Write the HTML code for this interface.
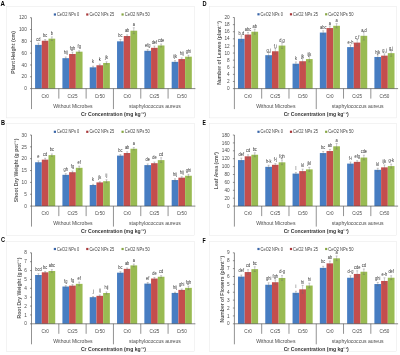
<!DOCTYPE html>
<html><head><meta charset="utf-8"><title>Figure</title>
<style>html,body{margin:0;padding:0;background:#fff;}body{width:400px;height:355px;overflow:hidden;font-family:"Liberation Sans",sans-serif}</style>
</head><body>
<svg width="400" height="355" viewBox="0 0 400 355" style="display:block;filter:blur(0.25px);font-family:'Liberation Sans',sans-serif">
<rect width="400" height="355" fill="#fff"/>
<rect x="6.5" y="6.3" width="188.20" height="111.60" fill="#fff" stroke="#e2e2e2" stroke-width="0.4"/>
<text x="0.6" y="6.1" font-size="7" textLength="4.4" lengthAdjust="spacingAndGlyphs" font-weight="bold" fill="#000">A</text>
<rect x="35.09" y="44.88" width="6.71" height="43.72" fill="#477dc2"/>
<path d="M38.45 43.11V46.65M37.45 43.11h2M37.45 46.65h2" stroke="#6a6a6a" stroke-width="0.35" fill="none"/>
<text transform="translate(38.45,40.85) scale(0.88,1)" font-size="4.5" text-anchor="middle" fill="#2a2a2a">cd</text>
<rect x="41.80" y="40.74" width="6.71" height="47.86" fill="#c44e4d"/>
<path d="M45.16 39.56V41.92M44.16 39.56h2M44.16 41.92h2" stroke="#6a6a6a" stroke-width="0.35" fill="none"/>
<text transform="translate(45.16,36.89) scale(0.88,1)" font-size="4.5" text-anchor="middle" fill="#2a2a2a">bc</text>
<rect x="48.51" y="38.67" width="6.71" height="49.93" fill="#99bb52"/>
<path d="M51.87 36.90V40.45M50.87 36.90h2M50.87 40.45h2" stroke="#6a6a6a" stroke-width="0.35" fill="none"/>
<text transform="translate(51.87,34.64) scale(0.88,1)" font-size="4.5" text-anchor="middle" fill="#2a2a2a">b</text>
<rect x="62.41" y="58.17" width="6.71" height="30.43" fill="#477dc2"/>
<path d="M65.76 56.99V59.35M64.76 56.99h2M64.76 59.35h2" stroke="#6a6a6a" stroke-width="0.35" fill="none"/>
<text transform="translate(65.76,54.32) scale(0.88,1)" font-size="4.5" text-anchor="middle" fill="#2a2a2a">hij</text>
<rect x="69.12" y="53.98" width="6.71" height="34.62" fill="#c44e4d"/>
<path d="M72.47 52.20V55.75M71.47 52.20h2M71.47 55.75h2" stroke="#6a6a6a" stroke-width="0.35" fill="none"/>
<text transform="translate(72.47,49.95) scale(0.88,1)" font-size="4.5" text-anchor="middle" fill="#2a2a2a">fgh</text>
<rect x="75.83" y="51.67" width="6.71" height="36.93" fill="#99bb52"/>
<path d="M79.19 50.79V52.56M78.19 50.79h2M78.19 52.56h2" stroke="#6a6a6a" stroke-width="0.35" fill="none"/>
<text transform="translate(79.19,47.91) scale(0.88,1)" font-size="4.5" text-anchor="middle" fill="#2a2a2a">fg</text>
<rect x="89.72" y="67.33" width="6.71" height="21.27" fill="#477dc2"/>
<path d="M93.08 66.15V68.51M92.08 66.15h2M92.08 68.51h2" stroke="#6a6a6a" stroke-width="0.35" fill="none"/>
<text transform="translate(93.08,63.48) scale(0.88,1)" font-size="4.5" text-anchor="middle" fill="#2a2a2a">k</text>
<rect x="96.44" y="65.26" width="6.71" height="23.34" fill="#c44e4d"/>
<path d="M99.79 64.08V66.44M98.79 64.08h2M98.79 66.44h2" stroke="#6a6a6a" stroke-width="0.35" fill="none"/>
<text transform="translate(99.79,61.41) scale(0.88,1)" font-size="4.5" text-anchor="middle" fill="#2a2a2a">k</text>
<rect x="103.15" y="62.96" width="6.71" height="25.64" fill="#99bb52"/>
<path d="M106.50 61.78V64.14M105.50 61.78h2M105.50 64.14h2" stroke="#6a6a6a" stroke-width="0.35" fill="none"/>
<text transform="translate(106.50,59.10) scale(0.88,1)" font-size="4.5" text-anchor="middle" fill="#2a2a2a">jk</text>
<rect x="117.04" y="41.33" width="6.71" height="47.27" fill="#477dc2"/>
<path d="M120.40 39.56V43.11M119.40 39.56h2M119.40 43.11h2" stroke="#6a6a6a" stroke-width="0.35" fill="none"/>
<text transform="translate(120.40,37.30) scale(0.88,1)" font-size="4.5" text-anchor="middle" fill="#2a2a2a">bc</text>
<rect x="123.75" y="36.02" width="6.71" height="52.58" fill="#c44e4d"/>
<path d="M127.11 34.83V37.20M126.11 34.83h2M126.11 37.20h2" stroke="#6a6a6a" stroke-width="0.35" fill="none"/>
<text transform="translate(127.11,32.16) scale(0.88,1)" font-size="4.5" text-anchor="middle" fill="#2a2a2a">ab</text>
<rect x="130.46" y="30.70" width="6.71" height="57.90" fill="#99bb52"/>
<path d="M133.82 27.74V33.65M132.82 27.74h2M132.82 33.65h2" stroke="#6a6a6a" stroke-width="0.35" fill="none"/>
<text transform="translate(133.82,26.31) scale(0.88,1)" font-size="4.5" text-anchor="middle" fill="#2a2a2a">a</text>
<rect x="144.36" y="50.79" width="6.71" height="37.81" fill="#477dc2"/>
<path d="M147.71 49.61V51.97M146.71 49.61h2M146.71 51.97h2" stroke="#6a6a6a" stroke-width="0.35" fill="none"/>
<text transform="translate(147.71,46.93) scale(0.88,1)" font-size="4.5" text-anchor="middle" fill="#2a2a2a">efg</text>
<rect x="151.07" y="47.83" width="6.71" height="40.77" fill="#c44e4d"/>
<path d="M154.42 46.06V49.61M153.42 46.06h2M153.42 49.61h2" stroke="#6a6a6a" stroke-width="0.35" fill="none"/>
<text transform="translate(154.42,43.80) scale(0.88,1)" font-size="4.5" text-anchor="middle" fill="#2a2a2a">def</text>
<rect x="157.78" y="45.47" width="6.71" height="43.13" fill="#99bb52"/>
<path d="M161.14 43.99V46.95M160.14 43.99h2M160.14 46.95h2" stroke="#6a6a6a" stroke-width="0.35" fill="none"/>
<text transform="translate(161.14,41.53) scale(0.88,1)" font-size="4.5" text-anchor="middle" fill="#2a2a2a">cde</text>
<rect x="171.67" y="61.84" width="6.71" height="26.76" fill="#477dc2"/>
<path d="M175.03 60.65V63.02M174.03 60.65h2M174.03 63.02h2" stroke="#6a6a6a" stroke-width="0.35" fill="none"/>
<text transform="translate(175.03,57.98) scale(0.88,1)" font-size="4.5" text-anchor="middle" fill="#2a2a2a">ijk</text>
<rect x="178.39" y="59.06" width="6.71" height="29.54" fill="#c44e4d"/>
<path d="M181.74 57.88V60.24M180.74 57.88h2M180.74 60.24h2" stroke="#6a6a6a" stroke-width="0.35" fill="none"/>
<text transform="translate(181.74,55.20) scale(0.88,1)" font-size="4.5" text-anchor="middle" fill="#2a2a2a">hij</text>
<rect x="185.10" y="56.70" width="6.71" height="31.90" fill="#99bb52"/>
<path d="M188.45 55.22V58.17M187.45 55.22h2M187.45 58.17h2" stroke="#6a6a6a" stroke-width="0.35" fill="none"/>
<text transform="translate(188.45,52.75) scale(0.88,1)" font-size="4.5" text-anchor="middle" fill="#2a2a2a">ghi</text>
<path d="M31.5 17.7V88.6H195.4" stroke="#4a4a4a" stroke-width="0.65" fill="none"/>
<path d="M30.0 88.60H31.5" stroke="#4a4a4a" stroke-width="0.6"/>
<text x="26.80" y="90.25" font-size="4.7" text-anchor="end" fill="#4c4c4c">0</text>
<path d="M30.0 76.78H31.5" stroke="#4a4a4a" stroke-width="0.6"/>
<text x="26.80" y="78.43" font-size="4.7" text-anchor="end" fill="#4c4c4c">20</text>
<path d="M30.0 64.97H31.5" stroke="#4a4a4a" stroke-width="0.6"/>
<text x="26.80" y="66.62" font-size="4.7" text-anchor="end" fill="#4c4c4c">40</text>
<path d="M30.0 53.15H31.5" stroke="#4a4a4a" stroke-width="0.6"/>
<text x="26.80" y="54.80" font-size="4.7" text-anchor="end" fill="#4c4c4c">60</text>
<path d="M30.0 41.33H31.5" stroke="#4a4a4a" stroke-width="0.6"/>
<text x="26.80" y="42.98" font-size="4.7" text-anchor="end" fill="#4c4c4c">80</text>
<path d="M30.0 29.52H31.5" stroke="#4a4a4a" stroke-width="0.6"/>
<text x="26.80" y="31.17" font-size="4.7" text-anchor="end" fill="#4c4c4c">100</text>
<path d="M30.0 17.70H31.5" stroke="#4a4a4a" stroke-width="0.6"/>
<text x="26.80" y="19.35" font-size="4.7" text-anchor="end" fill="#4c4c4c">120</text>
<path d="M31.50 88.6V109.1" stroke="#4a4a4a" stroke-width="0.6"/>
<path d="M58.82 88.6V98.6" stroke="#4a4a4a" stroke-width="0.6"/>
<path d="M86.13 88.6V98.6" stroke="#4a4a4a" stroke-width="0.6"/>
<path d="M113.45 88.6V109.1" stroke="#4a4a4a" stroke-width="0.6"/>
<path d="M140.77 88.6V98.6" stroke="#4a4a4a" stroke-width="0.6"/>
<path d="M168.08 88.6V98.6" stroke="#4a4a4a" stroke-width="0.6"/>
<text x="45.16" y="97.60" font-size="4.6" text-anchor="middle" fill="#4c4c4c">Cr0</text>
<text x="72.47" y="97.60" font-size="4.6" text-anchor="middle" fill="#4c4c4c">Cr25</text>
<text x="99.79" y="97.60" font-size="4.6" text-anchor="middle" fill="#4c4c4c">Cr50</text>
<text x="127.11" y="97.60" font-size="4.6" text-anchor="middle" fill="#4c4c4c">Cr0</text>
<text x="154.43" y="97.60" font-size="4.6" text-anchor="middle" fill="#4c4c4c">Cr25</text>
<text x="181.74" y="97.60" font-size="4.6" text-anchor="middle" fill="#4c4c4c">Cr50</text>
<text x="72.97" y="107.90" font-size="5.1" text-anchor="middle" fill="#4c4c4c">Without Microbes</text>
<text x="154.93" y="107.90" font-size="5.1" text-anchor="middle" fill="#4c4c4c">staphylococcus aureus</text>
<text x="113.45" y="115.90" font-size="5.1" font-weight="bold" text-anchor="middle" fill="#333">Cr Concentration (mg kg⁻¹)</text>
<text transform="translate(15.4,52.45) rotate(-90)" font-size="5.2" font-weight="bold" text-anchor="middle" fill="#585858">Plant Height (cm)</text>
<rect x="53.80" y="13.40" width="2.2" height="2.2" fill="#3a66a8"/>
<text x="57.00" y="16.00" font-size="4.6" textLength="22.3" lengthAdjust="spacingAndGlyphs" fill="#454545">CeO2 NPs 0</text>
<rect x="86.20" y="13.40" width="2.2" height="2.2" fill="#a8383a"/>
<text x="89.40" y="16.00" font-size="4.6" textLength="24.8" lengthAdjust="spacingAndGlyphs" fill="#454545">CeO2 NPs 25</text>
<rect x="121.50" y="13.40" width="2.2" height="2.2" fill="#86a642"/>
<text x="124.70" y="16.00" font-size="4.6" textLength="25.2" lengthAdjust="spacingAndGlyphs" fill="#454545">CeO2 NPs 50</text>
<rect x="6.5" y="123.2" width="188.20" height="112.30" fill="#fff" stroke="#e2e2e2" stroke-width="0.4"/>
<text x="1.0" y="124.5" font-size="7" textLength="4.0" lengthAdjust="spacingAndGlyphs" font-weight="bold" fill="#000">B</text>
<rect x="35.09" y="162.25" width="6.71" height="43.84" fill="#477dc2"/>
<path d="M38.45 160.83V163.68M37.45 160.83h2M37.45 163.68h2" stroke="#6a6a6a" stroke-width="0.35" fill="none"/>
<text transform="translate(38.45,158.33) scale(0.88,1)" font-size="4.5" text-anchor="middle" fill="#2a2a2a">e</text>
<rect x="41.80" y="159.65" width="6.71" height="46.45" fill="#c44e4d"/>
<path d="M45.16 158.23V161.07M44.16 158.23h2M44.16 161.07h2" stroke="#6a6a6a" stroke-width="0.35" fill="none"/>
<text transform="translate(45.16,155.72) scale(0.88,1)" font-size="4.5" text-anchor="middle" fill="#2a2a2a">cd</text>
<rect x="48.51" y="155.15" width="6.71" height="50.95" fill="#99bb52"/>
<path d="M51.87 153.96V156.33M50.87 153.96h2M50.87 156.33h2" stroke="#6a6a6a" stroke-width="0.35" fill="none"/>
<text transform="translate(51.87,151.29) scale(0.88,1)" font-size="4.5" text-anchor="middle" fill="#2a2a2a">bc</text>
<rect x="62.41" y="174.82" width="6.71" height="31.28" fill="#477dc2"/>
<path d="M65.76 173.63V176.00M64.76 173.63h2M64.76 176.00h2" stroke="#6a6a6a" stroke-width="0.35" fill="none"/>
<text transform="translate(65.76,170.96) scale(0.88,1)" font-size="4.5" text-anchor="middle" fill="#2a2a2a">gh</text>
<rect x="69.12" y="172.21" width="6.71" height="33.89" fill="#c44e4d"/>
<path d="M72.47 171.02V173.39M71.47 171.02h2M71.47 173.39h2" stroke="#6a6a6a" stroke-width="0.35" fill="none"/>
<text transform="translate(72.47,168.35) scale(0.88,1)" font-size="4.5" text-anchor="middle" fill="#2a2a2a">fg</text>
<rect x="75.83" y="167.82" width="6.71" height="38.28" fill="#99bb52"/>
<path d="M79.19 166.17V169.48M78.19 166.17h2M78.19 169.48h2" stroke="#6a6a6a" stroke-width="0.35" fill="none"/>
<text transform="translate(79.19,163.83) scale(0.88,1)" font-size="4.5" text-anchor="middle" fill="#2a2a2a">ef</text>
<rect x="89.72" y="185.01" width="6.71" height="21.09" fill="#477dc2"/>
<path d="M93.08 184.30V185.72M92.08 184.30h2M92.08 185.72h2" stroke="#6a6a6a" stroke-width="0.35" fill="none"/>
<text transform="translate(93.08,181.29) scale(0.88,1)" font-size="4.5" text-anchor="middle" fill="#2a2a2a">k</text>
<rect x="96.44" y="182.40" width="6.71" height="23.70" fill="#c44e4d"/>
<path d="M99.79 181.69V183.11M98.79 181.69h2M98.79 183.11h2" stroke="#6a6a6a" stroke-width="0.35" fill="none"/>
<text transform="translate(99.79,178.69) scale(0.88,1)" font-size="4.5" text-anchor="middle" fill="#2a2a2a">jk</text>
<rect x="103.15" y="181.22" width="6.71" height="24.88" fill="#99bb52"/>
<path d="M106.50 179.79V182.64M105.50 179.79h2M105.50 182.64h2" stroke="#6a6a6a" stroke-width="0.35" fill="none"/>
<text transform="translate(106.50,177.29) scale(0.88,1)" font-size="4.5" text-anchor="middle" fill="#2a2a2a">ij</text>
<rect x="117.04" y="155.62" width="6.71" height="50.48" fill="#477dc2"/>
<path d="M120.40 154.67V156.57M119.40 154.67h2M119.40 156.57h2" stroke="#6a6a6a" stroke-width="0.35" fill="none"/>
<text transform="translate(120.40,151.83) scale(0.88,1)" font-size="4.5" text-anchor="middle" fill="#2a2a2a">bc</text>
<rect x="123.75" y="153.01" width="6.71" height="53.09" fill="#c44e4d"/>
<path d="M127.11 151.83V154.20M126.11 151.83h2M126.11 154.20h2" stroke="#6a6a6a" stroke-width="0.35" fill="none"/>
<text transform="translate(127.11,149.16) scale(0.88,1)" font-size="4.5" text-anchor="middle" fill="#2a2a2a">ab</text>
<rect x="130.46" y="148.75" width="6.71" height="57.35" fill="#99bb52"/>
<path d="M133.82 147.56V149.93M132.82 147.56h2M132.82 149.93h2" stroke="#6a6a6a" stroke-width="0.35" fill="none"/>
<text transform="translate(133.82,144.89) scale(0.88,1)" font-size="4.5" text-anchor="middle" fill="#2a2a2a">a</text>
<rect x="144.36" y="165.10" width="6.71" height="41.00" fill="#477dc2"/>
<path d="M147.71 163.91V166.28M146.71 163.91h2M146.71 166.28h2" stroke="#6a6a6a" stroke-width="0.35" fill="none"/>
<text transform="translate(147.71,161.24) scale(0.88,1)" font-size="4.5" text-anchor="middle" fill="#2a2a2a">de</text>
<rect x="151.07" y="163.20" width="6.71" height="42.90" fill="#c44e4d"/>
<path d="M154.42 162.02V164.39M153.42 162.02h2M153.42 164.39h2" stroke="#6a6a6a" stroke-width="0.35" fill="none"/>
<text transform="translate(154.42,159.35) scale(0.88,1)" font-size="4.5" text-anchor="middle" fill="#2a2a2a">de</text>
<rect x="157.78" y="160.12" width="6.71" height="45.98" fill="#99bb52"/>
<path d="M161.14 157.75V162.49M160.14 157.75h2M160.14 162.49h2" stroke="#6a6a6a" stroke-width="0.35" fill="none"/>
<text transform="translate(161.14,155.91) scale(0.88,1)" font-size="4.5" text-anchor="middle" fill="#2a2a2a">cd</text>
<rect x="171.67" y="180.03" width="6.71" height="26.07" fill="#477dc2"/>
<path d="M175.03 178.84V181.22M174.03 178.84h2M174.03 181.22h2" stroke="#6a6a6a" stroke-width="0.35" fill="none"/>
<text transform="translate(175.03,176.17) scale(0.88,1)" font-size="4.5" text-anchor="middle" fill="#2a2a2a">hij</text>
<rect x="178.39" y="177.66" width="6.71" height="28.44" fill="#c44e4d"/>
<path d="M181.74 176.71V178.61M180.74 176.71h2M180.74 178.61h2" stroke="#6a6a6a" stroke-width="0.35" fill="none"/>
<text transform="translate(181.74,173.88) scale(0.88,1)" font-size="4.5" text-anchor="middle" fill="#2a2a2a">hij</text>
<rect x="185.10" y="175.76" width="6.71" height="30.34" fill="#99bb52"/>
<path d="M188.45 174.34V177.19M187.45 174.34h2M187.45 177.19h2" stroke="#6a6a6a" stroke-width="0.35" fill="none"/>
<text transform="translate(188.45,171.84) scale(0.88,1)" font-size="4.5" text-anchor="middle" fill="#2a2a2a">ghi</text>
<path d="M31.5 135V206.1H195.4" stroke="#4a4a4a" stroke-width="0.65" fill="none"/>
<path d="M30.0 206.10H31.5" stroke="#4a4a4a" stroke-width="0.6"/>
<text x="26.80" y="207.75" font-size="4.7" text-anchor="end" fill="#4c4c4c">0</text>
<path d="M30.0 194.25H31.5" stroke="#4a4a4a" stroke-width="0.6"/>
<text x="26.80" y="195.90" font-size="4.7" text-anchor="end" fill="#4c4c4c">5</text>
<path d="M30.0 182.40H31.5" stroke="#4a4a4a" stroke-width="0.6"/>
<text x="26.80" y="184.05" font-size="4.7" text-anchor="end" fill="#4c4c4c">10</text>
<path d="M30.0 170.55H31.5" stroke="#4a4a4a" stroke-width="0.6"/>
<text x="26.80" y="172.20" font-size="4.7" text-anchor="end" fill="#4c4c4c">15</text>
<path d="M30.0 158.70H31.5" stroke="#4a4a4a" stroke-width="0.6"/>
<text x="26.80" y="160.35" font-size="4.7" text-anchor="end" fill="#4c4c4c">20</text>
<path d="M30.0 146.85H31.5" stroke="#4a4a4a" stroke-width="0.6"/>
<text x="26.80" y="148.50" font-size="4.7" text-anchor="end" fill="#4c4c4c">25</text>
<path d="M30.0 135.00H31.5" stroke="#4a4a4a" stroke-width="0.6"/>
<text x="26.80" y="136.65" font-size="4.7" text-anchor="end" fill="#4c4c4c">30</text>
<path d="M31.50 206.1V226.6" stroke="#4a4a4a" stroke-width="0.6"/>
<path d="M58.82 206.1V216.1" stroke="#4a4a4a" stroke-width="0.6"/>
<path d="M86.13 206.1V216.1" stroke="#4a4a4a" stroke-width="0.6"/>
<path d="M113.45 206.1V226.6" stroke="#4a4a4a" stroke-width="0.6"/>
<path d="M140.77 206.1V216.1" stroke="#4a4a4a" stroke-width="0.6"/>
<path d="M168.08 206.1V216.1" stroke="#4a4a4a" stroke-width="0.6"/>
<text x="45.16" y="215.10" font-size="4.6" text-anchor="middle" fill="#4c4c4c">Cr0</text>
<text x="72.47" y="215.10" font-size="4.6" text-anchor="middle" fill="#4c4c4c">Cr25</text>
<text x="99.79" y="215.10" font-size="4.6" text-anchor="middle" fill="#4c4c4c">Cr50</text>
<text x="127.11" y="215.10" font-size="4.6" text-anchor="middle" fill="#4c4c4c">Cr0</text>
<text x="154.43" y="215.10" font-size="4.6" text-anchor="middle" fill="#4c4c4c">Cr25</text>
<text x="181.74" y="215.10" font-size="4.6" text-anchor="middle" fill="#4c4c4c">Cr50</text>
<text x="72.97" y="225.40" font-size="5.1" text-anchor="middle" fill="#4c4c4c">Without Microbes</text>
<text x="154.93" y="225.40" font-size="5.1" text-anchor="middle" fill="#4c4c4c">staphylococcus aureus</text>
<text x="113.45" y="233.40" font-size="5.1" font-weight="bold" text-anchor="middle" fill="#333">Cr Concentration (mg kg⁻¹)</text>
<text transform="translate(17.8,170.35) rotate(-90)" font-size="5.1" font-weight="bold" text-anchor="middle" fill="#585858">Shoot Dry Weight (g pot⁻¹)</text>
<rect x="53.80" y="130.70" width="2.2" height="2.2" fill="#3a66a8"/>
<text x="57.00" y="133.30" font-size="4.6" textLength="22.3" lengthAdjust="spacingAndGlyphs" fill="#454545">CeO2 NPs 0</text>
<rect x="86.20" y="130.70" width="2.2" height="2.2" fill="#a8383a"/>
<text x="89.40" y="133.30" font-size="4.6" textLength="24.8" lengthAdjust="spacingAndGlyphs" fill="#454545">CeO2 NPs 25</text>
<rect x="121.50" y="130.70" width="2.2" height="2.2" fill="#86a642"/>
<text x="124.70" y="133.30" font-size="4.6" textLength="25.2" lengthAdjust="spacingAndGlyphs" fill="#454545">CeO2 NPs 50</text>
<rect x="6.5" y="241.2" width="188.20" height="110.40" fill="#fff" stroke="#e2e2e2" stroke-width="0.4"/>
<text x="1.0" y="242.3" font-size="7" textLength="4.0" lengthAdjust="spacingAndGlyphs" font-weight="bold" fill="#000">C</text>
<rect x="35.09" y="274.99" width="6.71" height="48.81" fill="#477dc2"/>
<path d="M38.45 273.66V276.32M37.45 273.66h2M37.45 276.32h2" stroke="#6a6a6a" stroke-width="0.35" fill="none"/>
<text transform="translate(38.45,271.09) scale(0.88,1)" font-size="4.5" text-anchor="middle" fill="#2a2a2a">bcd</text>
<rect x="41.80" y="272.32" width="6.71" height="51.48" fill="#c44e4d"/>
<path d="M45.16 271.44V273.21M44.16 271.44h2M44.16 273.21h2" stroke="#6a6a6a" stroke-width="0.35" fill="none"/>
<text transform="translate(45.16,268.56) scale(0.88,1)" font-size="4.5" text-anchor="middle" fill="#2a2a2a">bc</text>
<rect x="48.51" y="270.99" width="6.71" height="52.81" fill="#99bb52"/>
<path d="M51.87 269.66V272.33M50.87 269.66h2M50.87 272.33h2" stroke="#6a6a6a" stroke-width="0.35" fill="none"/>
<text transform="translate(51.87,267.09) scale(0.88,1)" font-size="4.5" text-anchor="middle" fill="#2a2a2a">abc</text>
<rect x="62.41" y="286.53" width="6.71" height="37.27" fill="#477dc2"/>
<path d="M65.76 285.64V287.41M64.76 285.64h2M64.76 287.41h2" stroke="#6a6a6a" stroke-width="0.35" fill="none"/>
<text transform="translate(65.76,282.76) scale(0.88,1)" font-size="4.5" text-anchor="middle" fill="#2a2a2a">fg</text>
<rect x="69.12" y="285.64" width="6.71" height="38.16" fill="#c44e4d"/>
<path d="M72.47 284.57V286.70M71.47 284.57h2M71.47 286.70h2" stroke="#6a6a6a" stroke-width="0.35" fill="none"/>
<text transform="translate(72.47,281.82) scale(0.88,1)" font-size="4.5" text-anchor="middle" fill="#2a2a2a">fg</text>
<rect x="75.83" y="283.86" width="6.71" height="39.94" fill="#99bb52"/>
<path d="M79.19 282.09V285.64M78.19 282.09h2M78.19 285.64h2" stroke="#6a6a6a" stroke-width="0.35" fill="none"/>
<text transform="translate(79.19,279.83) scale(0.88,1)" font-size="4.5" text-anchor="middle" fill="#2a2a2a">ef</text>
<rect x="89.72" y="297.18" width="6.71" height="26.62" fill="#477dc2"/>
<path d="M93.08 296.47V297.88M92.08 296.47h2M92.08 297.88h2" stroke="#6a6a6a" stroke-width="0.35" fill="none"/>
<text transform="translate(93.08,293.46) scale(0.88,1)" font-size="4.5" text-anchor="middle" fill="#2a2a2a">j</text>
<rect x="96.44" y="295.84" width="6.71" height="27.96" fill="#c44e4d"/>
<path d="M99.79 294.96V296.73M98.79 294.96h2M98.79 296.73h2" stroke="#6a6a6a" stroke-width="0.35" fill="none"/>
<text transform="translate(99.79,292.08) scale(0.88,1)" font-size="4.5" text-anchor="middle" fill="#2a2a2a">ij</text>
<rect x="103.15" y="293.00" width="6.71" height="30.80" fill="#99bb52"/>
<path d="M106.50 291.94V294.07M105.50 291.94h2M105.50 294.07h2" stroke="#6a6a6a" stroke-width="0.35" fill="none"/>
<text transform="translate(106.50,289.18) scale(0.88,1)" font-size="4.5" text-anchor="middle" fill="#2a2a2a">hij</text>
<rect x="117.04" y="272.68" width="6.71" height="51.12" fill="#477dc2"/>
<path d="M120.40 271.62V273.75M119.40 271.62h2M119.40 273.75h2" stroke="#6a6a6a" stroke-width="0.35" fill="none"/>
<text transform="translate(120.40,268.86) scale(0.88,1)" font-size="4.5" text-anchor="middle" fill="#2a2a2a">bc</text>
<rect x="123.75" y="268.86" width="6.71" height="54.94" fill="#c44e4d"/>
<path d="M127.11 267.98V269.75M126.11 267.98h2M126.11 269.75h2" stroke="#6a6a6a" stroke-width="0.35" fill="none"/>
<text transform="translate(127.11,265.10) scale(0.88,1)" font-size="4.5" text-anchor="middle" fill="#2a2a2a">ab</text>
<rect x="130.46" y="265.40" width="6.71" height="58.40" fill="#99bb52"/>
<path d="M133.82 264.07V266.73M132.82 264.07h2M132.82 266.73h2" stroke="#6a6a6a" stroke-width="0.35" fill="none"/>
<text transform="translate(133.82,261.50) scale(0.88,1)" font-size="4.5" text-anchor="middle" fill="#2a2a2a">a</text>
<rect x="144.36" y="283.60" width="6.71" height="40.20" fill="#477dc2"/>
<path d="M147.71 282.53V284.66M146.71 282.53h2M146.71 284.66h2" stroke="#6a6a6a" stroke-width="0.35" fill="none"/>
<text transform="translate(147.71,279.78) scale(0.88,1)" font-size="4.5" text-anchor="middle" fill="#2a2a2a">ef</text>
<rect x="151.07" y="278.54" width="6.71" height="45.26" fill="#c44e4d"/>
<path d="M154.42 277.47V279.60M153.42 277.47h2M153.42 279.60h2" stroke="#6a6a6a" stroke-width="0.35" fill="none"/>
<text transform="translate(154.42,274.72) scale(0.88,1)" font-size="4.5" text-anchor="middle" fill="#2a2a2a">de</text>
<rect x="157.78" y="276.76" width="6.71" height="47.04" fill="#99bb52"/>
<path d="M161.14 275.70V277.83M160.14 275.70h2M160.14 277.83h2" stroke="#6a6a6a" stroke-width="0.35" fill="none"/>
<text transform="translate(161.14,272.94) scale(0.88,1)" font-size="4.5" text-anchor="middle" fill="#2a2a2a">cd</text>
<rect x="171.67" y="292.92" width="6.71" height="30.89" fill="#477dc2"/>
<path d="M175.03 292.21V293.62M174.03 292.21h2M174.03 293.62h2" stroke="#6a6a6a" stroke-width="0.35" fill="none"/>
<text transform="translate(175.03,289.20) scale(0.88,1)" font-size="4.5" text-anchor="middle" fill="#2a2a2a">hij</text>
<rect x="178.39" y="289.90" width="6.71" height="33.90" fill="#c44e4d"/>
<path d="M181.74 289.01V290.79M180.74 289.01h2M180.74 290.79h2" stroke="#6a6a6a" stroke-width="0.35" fill="none"/>
<text transform="translate(181.74,286.13) scale(0.88,1)" font-size="4.5" text-anchor="middle" fill="#2a2a2a">ghi</text>
<rect x="185.10" y="287.86" width="6.71" height="35.94" fill="#99bb52"/>
<path d="M188.45 286.08V289.63M187.45 286.08h2M187.45 289.63h2" stroke="#6a6a6a" stroke-width="0.35" fill="none"/>
<text transform="translate(188.45,283.82) scale(0.88,1)" font-size="4.5" text-anchor="middle" fill="#2a2a2a">fgh</text>
<path d="M31.5 252.8V323.8H195.4" stroke="#4a4a4a" stroke-width="0.65" fill="none"/>
<path d="M30.0 323.80H31.5" stroke="#4a4a4a" stroke-width="0.6"/>
<text x="26.80" y="325.45" font-size="4.7" text-anchor="end" fill="#4c4c4c">0</text>
<path d="M30.0 314.93H31.5" stroke="#4a4a4a" stroke-width="0.6"/>
<text x="26.80" y="316.57" font-size="4.7" text-anchor="end" fill="#4c4c4c">1</text>
<path d="M30.0 306.05H31.5" stroke="#4a4a4a" stroke-width="0.6"/>
<text x="26.80" y="307.70" font-size="4.7" text-anchor="end" fill="#4c4c4c">2</text>
<path d="M30.0 297.18H31.5" stroke="#4a4a4a" stroke-width="0.6"/>
<text x="26.80" y="298.82" font-size="4.7" text-anchor="end" fill="#4c4c4c">3</text>
<path d="M30.0 288.30H31.5" stroke="#4a4a4a" stroke-width="0.6"/>
<text x="26.80" y="289.95" font-size="4.7" text-anchor="end" fill="#4c4c4c">4</text>
<path d="M30.0 279.43H31.5" stroke="#4a4a4a" stroke-width="0.6"/>
<text x="26.80" y="281.07" font-size="4.7" text-anchor="end" fill="#4c4c4c">5</text>
<path d="M30.0 270.55H31.5" stroke="#4a4a4a" stroke-width="0.6"/>
<text x="26.80" y="272.20" font-size="4.7" text-anchor="end" fill="#4c4c4c">6</text>
<path d="M30.0 261.68H31.5" stroke="#4a4a4a" stroke-width="0.6"/>
<text x="26.80" y="263.32" font-size="4.7" text-anchor="end" fill="#4c4c4c">7</text>
<path d="M30.0 252.80H31.5" stroke="#4a4a4a" stroke-width="0.6"/>
<text x="26.80" y="254.45" font-size="4.7" text-anchor="end" fill="#4c4c4c">8</text>
<path d="M31.50 323.8V344.3" stroke="#4a4a4a" stroke-width="0.6"/>
<path d="M58.82 323.8V333.8" stroke="#4a4a4a" stroke-width="0.6"/>
<path d="M86.13 323.8V333.8" stroke="#4a4a4a" stroke-width="0.6"/>
<path d="M113.45 323.8V344.3" stroke="#4a4a4a" stroke-width="0.6"/>
<path d="M140.77 323.8V333.8" stroke="#4a4a4a" stroke-width="0.6"/>
<path d="M168.08 323.8V333.8" stroke="#4a4a4a" stroke-width="0.6"/>
<text x="45.16" y="332.80" font-size="4.6" text-anchor="middle" fill="#4c4c4c">Cr0</text>
<text x="72.47" y="332.80" font-size="4.6" text-anchor="middle" fill="#4c4c4c">Cr25</text>
<text x="99.79" y="332.80" font-size="4.6" text-anchor="middle" fill="#4c4c4c">Cr50</text>
<text x="127.11" y="332.80" font-size="4.6" text-anchor="middle" fill="#4c4c4c">Cr0</text>
<text x="154.43" y="332.80" font-size="4.6" text-anchor="middle" fill="#4c4c4c">Cr25</text>
<text x="181.74" y="332.80" font-size="4.6" text-anchor="middle" fill="#4c4c4c">Cr50</text>
<text x="72.97" y="343.10" font-size="5.1" text-anchor="middle" fill="#4c4c4c">Without Microbes</text>
<text x="154.93" y="343.10" font-size="5.1" text-anchor="middle" fill="#4c4c4c">staphylococcus aureus</text>
<text x="113.45" y="351.10" font-size="5.1" font-weight="bold" text-anchor="middle" fill="#333">Cr Concentration (mg kg⁻¹)</text>
<text transform="translate(20.8,288.05) rotate(-90)" font-size="5.1" font-weight="bold" text-anchor="middle" fill="#585858">Root Dry Weight (g pot⁻¹)</text>
<rect x="53.80" y="247.90" width="2.2" height="2.2" fill="#3a66a8"/>
<text x="57.00" y="250.50" font-size="4.6" textLength="22.3" lengthAdjust="spacingAndGlyphs" fill="#454545">CeO2 NPs 0</text>
<rect x="86.20" y="247.90" width="2.2" height="2.2" fill="#a8383a"/>
<text x="89.40" y="250.50" font-size="4.6" textLength="24.8" lengthAdjust="spacingAndGlyphs" fill="#454545">CeO2 NPs 25</text>
<rect x="121.50" y="247.90" width="2.2" height="2.2" fill="#86a642"/>
<text x="124.70" y="250.50" font-size="4.6" textLength="25.2" lengthAdjust="spacingAndGlyphs" fill="#454545">CeO2 NPs 50</text>
<rect x="209.5" y="6.3" width="187.00" height="111.60" fill="#fff" stroke="#e2e2e2" stroke-width="0.4"/>
<text x="202.5" y="6.2" font-size="7" textLength="4.1" lengthAdjust="spacingAndGlyphs" font-weight="bold" fill="#000">D</text>
<rect x="237.99" y="38.83" width="6.70" height="49.77" fill="#477dc2"/>
<path d="M241.34 35.99V41.67M240.34 35.99h2M240.34 41.67h2" stroke="#6a6a6a" stroke-width="0.35" fill="none"/>
<text transform="translate(241.34,35.28) scale(0.88,1)" font-size="4.5" text-anchor="middle" fill="#2a2a2a">b,d</text>
<rect x="244.69" y="34.56" width="6.70" height="54.04" fill="#c44e4d"/>
<path d="M248.04 32.43V36.70M247.04 32.43h2M247.04 36.70h2" stroke="#6a6a6a" stroke-width="0.35" fill="none"/>
<text transform="translate(248.04,31.22) scale(0.88,1)" font-size="4.5" text-anchor="middle" fill="#2a2a2a">abc</text>
<rect x="251.39" y="31.72" width="6.70" height="56.88" fill="#99bb52"/>
<path d="M254.75 29.23V34.21M253.75 29.23h2M253.75 34.21h2" stroke="#6a6a6a" stroke-width="0.35" fill="none"/>
<text transform="translate(254.75,28.27) scale(0.88,1)" font-size="4.5" text-anchor="middle" fill="#2a2a2a">ab</text>
<rect x="265.27" y="55.18" width="6.70" height="33.42" fill="#477dc2"/>
<path d="M268.62 52.34V58.03M267.62 52.34h2M267.62 58.03h2" stroke="#6a6a6a" stroke-width="0.35" fill="none"/>
<text transform="translate(268.62,51.63) scale(0.88,1)" font-size="4.5" text-anchor="middle" fill="#2a2a2a">g,j</text>
<rect x="271.97" y="51.27" width="6.70" height="37.33" fill="#c44e4d"/>
<path d="M275.32 48.43V54.12M274.32 48.43h2M274.32 54.12h2" stroke="#6a6a6a" stroke-width="0.35" fill="none"/>
<text transform="translate(275.32,47.72) scale(0.88,1)" font-size="4.5" text-anchor="middle" fill="#2a2a2a">f,i</text>
<rect x="278.68" y="45.58" width="6.70" height="43.02" fill="#99bb52"/>
<path d="M282.03 42.74V48.43M281.03 42.74h2M281.03 48.43h2" stroke="#6a6a6a" stroke-width="0.35" fill="none"/>
<text transform="translate(282.03,42.03) scale(0.88,1)" font-size="4.5" text-anchor="middle" fill="#2a2a2a">d,g</text>
<rect x="292.55" y="63.71" width="6.70" height="24.88" fill="#477dc2"/>
<path d="M295.90 61.94V65.49M294.90 61.94h2M294.90 65.49h2" stroke="#6a6a6a" stroke-width="0.35" fill="none"/>
<text transform="translate(295.90,60.48) scale(0.88,1)" font-size="4.5" text-anchor="middle" fill="#2a2a2a">k</text>
<rect x="299.26" y="61.23" width="6.70" height="27.37" fill="#c44e4d"/>
<path d="M302.61 58.38V64.07M301.61 58.38h2M301.61 64.07h2" stroke="#6a6a6a" stroke-width="0.35" fill="none"/>
<text transform="translate(302.61,57.67) scale(0.88,1)" font-size="4.5" text-anchor="middle" fill="#2a2a2a">jk</text>
<rect x="305.96" y="59.09" width="6.70" height="29.51" fill="#99bb52"/>
<path d="M309.31 56.25V61.94M308.31 56.25h2M308.31 61.94h2" stroke="#6a6a6a" stroke-width="0.35" fill="none"/>
<text transform="translate(309.31,55.54) scale(0.88,1)" font-size="4.5" text-anchor="middle" fill="#2a2a2a">ijk</text>
<rect x="319.84" y="32.57" width="6.70" height="56.03" fill="#477dc2"/>
<path d="M323.19 30.80V34.35M322.19 30.80h2M322.19 34.35h2" stroke="#6a6a6a" stroke-width="0.35" fill="none"/>
<text transform="translate(323.19,29.34) scale(0.88,1)" font-size="4.5" text-anchor="middle" fill="#2a2a2a">abc</text>
<rect x="326.54" y="28.06" width="6.70" height="60.54" fill="#c44e4d"/>
<path d="M329.89 25.93V30.19M328.89 25.93h2M328.89 30.19h2" stroke="#6a6a6a" stroke-width="0.35" fill="none"/>
<text transform="translate(329.89,24.72) scale(0.88,1)" font-size="4.5" text-anchor="middle" fill="#2a2a2a">a</text>
<rect x="333.24" y="25.78" width="6.70" height="62.82" fill="#99bb52"/>
<path d="M336.60 23.65V27.92M335.60 23.65h2M335.60 27.92h2" stroke="#6a6a6a" stroke-width="0.35" fill="none"/>
<text transform="translate(336.60,22.44) scale(0.88,1)" font-size="4.5" text-anchor="middle" fill="#2a2a2a">a</text>
<rect x="347.12" y="47.11" width="6.70" height="41.49" fill="#477dc2"/>
<path d="M350.47 44.98V49.25M349.47 44.98h2M349.47 49.25h2" stroke="#6a6a6a" stroke-width="0.35" fill="none"/>
<text transform="translate(350.47,43.77) scale(0.88,1)" font-size="4.5" text-anchor="middle" fill="#2a2a2a">e-h</text>
<rect x="353.82" y="42.60" width="6.70" height="46.00" fill="#c44e4d"/>
<path d="M357.18 39.40V45.80M356.18 39.40h2M356.18 45.80h2" stroke="#6a6a6a" stroke-width="0.35" fill="none"/>
<text transform="translate(357.18,38.94) scale(0.88,1)" font-size="4.5" text-anchor="middle" fill="#2a2a2a">c,f</text>
<rect x="360.53" y="35.81" width="6.70" height="52.79" fill="#99bb52"/>
<path d="M363.88 31.54V40.07M362.88 31.54h2M362.88 40.07h2" stroke="#6a6a6a" stroke-width="0.35" fill="none"/>
<text transform="translate(363.88,31.83) scale(0.88,1)" font-size="4.5" text-anchor="middle" fill="#2a2a2a">a,d</text>
<rect x="374.40" y="56.96" width="6.70" height="31.64" fill="#477dc2"/>
<path d="M377.75 54.83V59.09M376.75 54.83h2M376.75 59.09h2" stroke="#6a6a6a" stroke-width="0.35" fill="none"/>
<text transform="translate(377.75,53.62) scale(0.88,1)" font-size="4.5" text-anchor="middle" fill="#2a2a2a">hjk</text>
<rect x="381.11" y="55.65" width="6.70" height="32.95" fill="#c44e4d"/>
<path d="M384.46 53.87V57.42M383.46 53.87h2M383.46 57.42h2" stroke="#6a6a6a" stroke-width="0.35" fill="none"/>
<text transform="translate(384.46,52.41) scale(0.88,1)" font-size="4.5" text-anchor="middle" fill="#2a2a2a">g,j</text>
<rect x="387.81" y="53.16" width="6.70" height="35.44" fill="#99bb52"/>
<path d="M391.16 49.96V56.36M390.16 49.96h2M390.16 56.36h2" stroke="#6a6a6a" stroke-width="0.35" fill="none"/>
<text transform="translate(391.16,49.50) scale(0.88,1)" font-size="4.5" text-anchor="middle" fill="#2a2a2a">g,j</text>
<path d="M234.4 17.5V88.6H398.1" stroke="#4a4a4a" stroke-width="0.65" fill="none"/>
<path d="M232.9 88.60H234.4" stroke="#4a4a4a" stroke-width="0.6"/>
<text x="229.70" y="90.25" font-size="4.7" text-anchor="end" fill="#4c4c4c">0</text>
<path d="M232.9 81.49H234.4" stroke="#4a4a4a" stroke-width="0.6"/>
<text x="229.70" y="83.14" font-size="4.7" text-anchor="end" fill="#4c4c4c">2</text>
<path d="M232.9 74.38H234.4" stroke="#4a4a4a" stroke-width="0.6"/>
<text x="229.70" y="76.03" font-size="4.7" text-anchor="end" fill="#4c4c4c">4</text>
<path d="M232.9 67.27H234.4" stroke="#4a4a4a" stroke-width="0.6"/>
<text x="229.70" y="68.92" font-size="4.7" text-anchor="end" fill="#4c4c4c">6</text>
<path d="M232.9 60.16H234.4" stroke="#4a4a4a" stroke-width="0.6"/>
<text x="229.70" y="61.81" font-size="4.7" text-anchor="end" fill="#4c4c4c">8</text>
<path d="M232.9 53.05H234.4" stroke="#4a4a4a" stroke-width="0.6"/>
<text x="229.70" y="54.70" font-size="4.7" text-anchor="end" fill="#4c4c4c">10</text>
<path d="M232.9 45.94H234.4" stroke="#4a4a4a" stroke-width="0.6"/>
<text x="229.70" y="47.59" font-size="4.7" text-anchor="end" fill="#4c4c4c">12</text>
<path d="M232.9 38.83H234.4" stroke="#4a4a4a" stroke-width="0.6"/>
<text x="229.70" y="40.48" font-size="4.7" text-anchor="end" fill="#4c4c4c">14</text>
<path d="M232.9 31.72H234.4" stroke="#4a4a4a" stroke-width="0.6"/>
<text x="229.70" y="33.37" font-size="4.7" text-anchor="end" fill="#4c4c4c">16</text>
<path d="M232.9 24.61H234.4" stroke="#4a4a4a" stroke-width="0.6"/>
<text x="229.70" y="26.26" font-size="4.7" text-anchor="end" fill="#4c4c4c">18</text>
<path d="M232.9 17.50H234.4" stroke="#4a4a4a" stroke-width="0.6"/>
<text x="229.70" y="19.15" font-size="4.7" text-anchor="end" fill="#4c4c4c">20</text>
<path d="M234.40 88.6V109.1" stroke="#4a4a4a" stroke-width="0.6"/>
<path d="M261.68 88.6V98.6" stroke="#4a4a4a" stroke-width="0.6"/>
<path d="M288.97 88.6V98.6" stroke="#4a4a4a" stroke-width="0.6"/>
<path d="M316.25 88.6V109.1" stroke="#4a4a4a" stroke-width="0.6"/>
<path d="M343.53 88.6V98.6" stroke="#4a4a4a" stroke-width="0.6"/>
<path d="M370.82 88.6V98.6" stroke="#4a4a4a" stroke-width="0.6"/>
<text x="248.04" y="97.60" font-size="4.6" text-anchor="middle" fill="#4c4c4c">Cr0</text>
<text x="275.32" y="97.60" font-size="4.6" text-anchor="middle" fill="#4c4c4c">Cr25</text>
<text x="302.61" y="97.60" font-size="4.6" text-anchor="middle" fill="#4c4c4c">Cr50</text>
<text x="329.89" y="97.60" font-size="4.6" text-anchor="middle" fill="#4c4c4c">Cr0</text>
<text x="357.18" y="97.60" font-size="4.6" text-anchor="middle" fill="#4c4c4c">Cr25</text>
<text x="384.46" y="97.60" font-size="4.6" text-anchor="middle" fill="#4c4c4c">Cr50</text>
<text x="275.82" y="107.90" font-size="5.1" text-anchor="middle" fill="#4c4c4c">Without Microbes</text>
<text x="357.68" y="107.90" font-size="5.1" text-anchor="middle" fill="#4c4c4c">staphylococcus aureus</text>
<text x="316.25" y="115.90" font-size="5.1" font-weight="bold" text-anchor="middle" fill="#333">Cr Concentration (mg kg⁻¹)</text>
<text transform="translate(220.8,52.90) rotate(-90)" font-size="5.03" font-weight="bold" text-anchor="middle" fill="#585858">Number of Leaves (plant⁻¹)</text>
<rect x="257.40" y="13.20" width="2.2" height="2.2" fill="#3a66a8"/>
<text x="260.60" y="15.80" font-size="4.6" textLength="22.3" lengthAdjust="spacingAndGlyphs" fill="#454545">CeO2 NPs 0</text>
<rect x="289.90" y="13.20" width="2.2" height="2.2" fill="#a8383a"/>
<text x="293.10" y="15.80" font-size="4.6" textLength="24.8" lengthAdjust="spacingAndGlyphs" fill="#454545">CeO2 NPs 25</text>
<rect x="325.10" y="13.20" width="2.2" height="2.2" fill="#86a642"/>
<text x="328.30" y="15.80" font-size="4.6" textLength="25.2" lengthAdjust="spacingAndGlyphs" fill="#454545">CeO2 NPs 50</text>
<rect x="209.5" y="123.2" width="187.00" height="112.30" fill="#fff" stroke="#e2e2e2" stroke-width="0.4"/>
<text x="202.5" y="124.5" font-size="7" textLength="3.4" lengthAdjust="spacingAndGlyphs" font-weight="bold" fill="#000">E</text>
<rect x="237.99" y="160.08" width="6.70" height="46.02" fill="#477dc2"/>
<path d="M241.34 158.11V162.06M240.34 158.11h2M240.34 162.06h2" stroke="#6a6a6a" stroke-width="0.35" fill="none"/>
<text transform="translate(241.34,155.99) scale(0.88,1)" font-size="4.5" text-anchor="middle" fill="#2a2a2a">def</text>
<rect x="244.69" y="156.33" width="6.70" height="49.77" fill="#c44e4d"/>
<path d="M248.04 154.75V157.91M247.04 154.75h2M247.04 157.91h2" stroke="#6a6a6a" stroke-width="0.35" fill="none"/>
<text transform="translate(248.04,152.36) scale(0.88,1)" font-size="4.5" text-anchor="middle" fill="#2a2a2a">cd</text>
<rect x="251.39" y="154.75" width="6.70" height="51.35" fill="#99bb52"/>
<path d="M254.75 152.78V156.72M253.75 152.78h2M253.75 156.72h2" stroke="#6a6a6a" stroke-width="0.35" fill="none"/>
<text transform="translate(254.75,150.66) scale(0.88,1)" font-size="4.5" text-anchor="middle" fill="#2a2a2a">bc</text>
<rect x="265.27" y="166.84" width="6.70" height="39.26" fill="#477dc2"/>
<path d="M268.62 165.26V168.42M267.62 165.26h2M267.62 168.42h2" stroke="#6a6a6a" stroke-width="0.35" fill="none"/>
<text transform="translate(268.62,162.86) scale(0.88,1)" font-size="4.5" text-anchor="middle" fill="#2a2a2a">h-k</text>
<rect x="271.97" y="164.82" width="6.70" height="41.28" fill="#c44e4d"/>
<path d="M275.32 163.64V166.01M274.32 163.64h2M274.32 166.01h2" stroke="#6a6a6a" stroke-width="0.35" fill="none"/>
<text transform="translate(275.32,160.97) scale(0.88,1)" font-size="4.5" text-anchor="middle" fill="#2a2a2a">f-j</text>
<rect x="278.68" y="162.33" width="6.70" height="43.77" fill="#99bb52"/>
<path d="M282.03 159.96V164.70M281.03 159.96h2M281.03 164.70h2" stroke="#6a6a6a" stroke-width="0.35" fill="none"/>
<text transform="translate(282.03,158.12) scale(0.88,1)" font-size="4.5" text-anchor="middle" fill="#2a2a2a">fgh</text>
<rect x="292.55" y="173.59" width="6.70" height="32.51" fill="#477dc2"/>
<path d="M295.90 172.41V174.78M294.90 172.41h2M294.90 174.78h2" stroke="#6a6a6a" stroke-width="0.35" fill="none"/>
<text transform="translate(295.90,169.74) scale(0.88,1)" font-size="4.5" text-anchor="middle" fill="#2a2a2a">l</text>
<rect x="299.26" y="171.10" width="6.70" height="35.00" fill="#c44e4d"/>
<path d="M302.61 169.13V173.08M301.61 169.13h2M301.61 173.08h2" stroke="#6a6a6a" stroke-width="0.35" fill="none"/>
<text transform="translate(302.61,167.01) scale(0.88,1)" font-size="4.5" text-anchor="middle" fill="#2a2a2a">kl</text>
<rect x="305.96" y="169.37" width="6.70" height="36.73" fill="#99bb52"/>
<path d="M309.31 167.39V171.34M308.31 167.39h2M308.31 171.34h2" stroke="#6a6a6a" stroke-width="0.35" fill="none"/>
<text transform="translate(309.31,165.27) scale(0.88,1)" font-size="4.5" text-anchor="middle" fill="#2a2a2a">jkl</text>
<rect x="319.84" y="153.05" width="6.70" height="53.05" fill="#477dc2"/>
<path d="M323.19 151.47V154.63M322.19 151.47h2M322.19 154.63h2" stroke="#6a6a6a" stroke-width="0.35" fill="none"/>
<text transform="translate(323.19,149.08) scale(0.88,1)" font-size="4.5" text-anchor="middle" fill="#2a2a2a">bc</text>
<rect x="326.54" y="151.04" width="6.70" height="55.06" fill="#c44e4d"/>
<path d="M329.89 149.46V152.62M328.89 149.46h2M328.89 152.62h2" stroke="#6a6a6a" stroke-width="0.35" fill="none"/>
<text transform="translate(329.89,147.06) scale(0.88,1)" font-size="4.5" text-anchor="middle" fill="#2a2a2a">ab</text>
<rect x="333.24" y="146.30" width="6.70" height="59.80" fill="#99bb52"/>
<path d="M336.60 143.53V149.06M335.60 143.53h2M335.60 149.06h2" stroke="#6a6a6a" stroke-width="0.35" fill="none"/>
<text transform="translate(336.60,141.97) scale(0.88,1)" font-size="4.5" text-anchor="middle" fill="#2a2a2a">a</text>
<rect x="347.12" y="163.60" width="6.70" height="42.50" fill="#477dc2"/>
<path d="M350.47 162.02V165.18M349.47 162.02h2M349.47 165.18h2" stroke="#6a6a6a" stroke-width="0.35" fill="none"/>
<text transform="translate(350.47,159.62) scale(0.88,1)" font-size="4.5" text-anchor="middle" fill="#2a2a2a">f-i</text>
<rect x="353.82" y="161.86" width="6.70" height="44.24" fill="#c44e4d"/>
<path d="M357.18 160.68V163.05M356.18 160.68h2M356.18 163.05h2" stroke="#6a6a6a" stroke-width="0.35" fill="none"/>
<text transform="translate(357.18,158.00) scale(0.88,1)" font-size="4.5" text-anchor="middle" fill="#2a2a2a">efg</text>
<rect x="360.53" y="157.55" width="6.70" height="48.55" fill="#99bb52"/>
<path d="M363.88 155.18V159.92M362.88 155.18h2M362.88 159.92h2" stroke="#6a6a6a" stroke-width="0.35" fill="none"/>
<text transform="translate(363.88,153.34) scale(0.88,1)" font-size="4.5" text-anchor="middle" fill="#2a2a2a">cde</text>
<rect x="374.40" y="169.84" width="6.70" height="36.26" fill="#477dc2"/>
<path d="M377.75 168.26V171.42M376.75 168.26h2M376.75 171.42h2" stroke="#6a6a6a" stroke-width="0.35" fill="none"/>
<text transform="translate(377.75,165.87) scale(0.88,1)" font-size="4.5" text-anchor="middle" fill="#2a2a2a">kl</text>
<rect x="381.11" y="167.35" width="6.70" height="38.75" fill="#c44e4d"/>
<path d="M384.46 164.98V169.72M383.46 164.98h2M383.46 169.72h2" stroke="#6a6a6a" stroke-width="0.35" fill="none"/>
<text transform="translate(384.46,163.14) scale(0.88,1)" font-size="4.5" text-anchor="middle" fill="#2a2a2a">ijk</text>
<rect x="387.81" y="166.09" width="6.70" height="40.01" fill="#99bb52"/>
<path d="M391.16 164.11V168.06M390.16 164.11h2M390.16 168.06h2" stroke="#6a6a6a" stroke-width="0.35" fill="none"/>
<text transform="translate(391.16,161.99) scale(0.88,1)" font-size="4.5" text-anchor="middle" fill="#2a2a2a">g-k</text>
<path d="M234.4 135V206.1H398.1" stroke="#4a4a4a" stroke-width="0.65" fill="none"/>
<path d="M232.9 206.10H234.4" stroke="#4a4a4a" stroke-width="0.6"/>
<text x="229.70" y="207.75" font-size="4.7" text-anchor="end" fill="#4c4c4c">0</text>
<path d="M232.9 198.20H234.4" stroke="#4a4a4a" stroke-width="0.6"/>
<text x="229.70" y="199.85" font-size="4.7" text-anchor="end" fill="#4c4c4c">20</text>
<path d="M232.9 190.30H234.4" stroke="#4a4a4a" stroke-width="0.6"/>
<text x="229.70" y="191.95" font-size="4.7" text-anchor="end" fill="#4c4c4c">40</text>
<path d="M232.9 182.40H234.4" stroke="#4a4a4a" stroke-width="0.6"/>
<text x="229.70" y="184.05" font-size="4.7" text-anchor="end" fill="#4c4c4c">60</text>
<path d="M232.9 174.50H234.4" stroke="#4a4a4a" stroke-width="0.6"/>
<text x="229.70" y="176.15" font-size="4.7" text-anchor="end" fill="#4c4c4c">80</text>
<path d="M232.9 166.60H234.4" stroke="#4a4a4a" stroke-width="0.6"/>
<text x="229.70" y="168.25" font-size="4.7" text-anchor="end" fill="#4c4c4c">100</text>
<path d="M232.9 158.70H234.4" stroke="#4a4a4a" stroke-width="0.6"/>
<text x="229.70" y="160.35" font-size="4.7" text-anchor="end" fill="#4c4c4c">120</text>
<path d="M232.9 150.80H234.4" stroke="#4a4a4a" stroke-width="0.6"/>
<text x="229.70" y="152.45" font-size="4.7" text-anchor="end" fill="#4c4c4c">140</text>
<path d="M232.9 142.90H234.4" stroke="#4a4a4a" stroke-width="0.6"/>
<text x="229.70" y="144.55" font-size="4.7" text-anchor="end" fill="#4c4c4c">160</text>
<path d="M232.9 135.00H234.4" stroke="#4a4a4a" stroke-width="0.6"/>
<text x="229.70" y="136.65" font-size="4.7" text-anchor="end" fill="#4c4c4c">180</text>
<path d="M234.40 206.1V226.6" stroke="#4a4a4a" stroke-width="0.6"/>
<path d="M261.68 206.1V216.1" stroke="#4a4a4a" stroke-width="0.6"/>
<path d="M288.97 206.1V216.1" stroke="#4a4a4a" stroke-width="0.6"/>
<path d="M316.25 206.1V226.6" stroke="#4a4a4a" stroke-width="0.6"/>
<path d="M343.53 206.1V216.1" stroke="#4a4a4a" stroke-width="0.6"/>
<path d="M370.82 206.1V216.1" stroke="#4a4a4a" stroke-width="0.6"/>
<text x="248.04" y="215.10" font-size="4.6" text-anchor="middle" fill="#4c4c4c">Cr0</text>
<text x="275.32" y="215.10" font-size="4.6" text-anchor="middle" fill="#4c4c4c">Cr25</text>
<text x="302.61" y="215.10" font-size="4.6" text-anchor="middle" fill="#4c4c4c">Cr50</text>
<text x="329.89" y="215.10" font-size="4.6" text-anchor="middle" fill="#4c4c4c">Cr0</text>
<text x="357.18" y="215.10" font-size="4.6" text-anchor="middle" fill="#4c4c4c">Cr25</text>
<text x="384.46" y="215.10" font-size="4.6" text-anchor="middle" fill="#4c4c4c">Cr50</text>
<text x="275.82" y="225.40" font-size="5.1" text-anchor="middle" fill="#4c4c4c">Without Microbes</text>
<text x="357.68" y="225.40" font-size="5.1" text-anchor="middle" fill="#4c4c4c">staphylococcus aureus</text>
<text x="316.25" y="233.40" font-size="5.1" font-weight="bold" text-anchor="middle" fill="#333">Cr Concentration (mg kg⁻¹)</text>
<text transform="translate(218.10000000000002,170.55) rotate(-90)" font-size="5.15" font-weight="bold" text-anchor="middle" fill="#585858">Leaf Area (cm²)</text>
<rect x="257.40" y="130.70" width="2.2" height="2.2" fill="#3a66a8"/>
<text x="260.60" y="133.30" font-size="4.6" textLength="22.3" lengthAdjust="spacingAndGlyphs" fill="#454545">CeO2 NPs 0</text>
<rect x="289.90" y="130.70" width="2.2" height="2.2" fill="#a8383a"/>
<text x="293.10" y="133.30" font-size="4.6" textLength="24.8" lengthAdjust="spacingAndGlyphs" fill="#454545">CeO2 NPs 25</text>
<rect x="325.10" y="130.70" width="2.2" height="2.2" fill="#86a642"/>
<text x="328.30" y="133.30" font-size="4.6" textLength="25.2" lengthAdjust="spacingAndGlyphs" fill="#454545">CeO2 NPs 50</text>
<rect x="209.5" y="241.2" width="187.00" height="110.40" fill="#fff" stroke="#e2e2e2" stroke-width="0.4"/>
<text x="202.5" y="242.6" font-size="7" textLength="3.2" lengthAdjust="spacingAndGlyphs" font-weight="bold" fill="#000">F</text>
<rect x="237.99" y="276.62" width="6.70" height="47.18" fill="#477dc2"/>
<path d="M241.34 275.05V278.20M240.34 275.05h2M240.34 278.20h2" stroke="#6a6a6a" stroke-width="0.35" fill="none"/>
<text transform="translate(241.34,272.25) scale(0.88,1)" font-size="4.5" text-anchor="middle" fill="#2a2a2a">def</text>
<rect x="244.69" y="272.05" width="6.70" height="51.75" fill="#c44e4d"/>
<path d="M248.04 269.68V274.42M247.04 269.68h2M247.04 274.42h2" stroke="#6a6a6a" stroke-width="0.35" fill="none"/>
<text transform="translate(248.04,267.44) scale(0.88,1)" font-size="4.5" text-anchor="middle" fill="#2a2a2a">cd</text>
<rect x="251.39" y="269.13" width="6.70" height="54.67" fill="#99bb52"/>
<path d="M254.75 266.76V271.50M253.75 266.76h2M253.75 271.50h2" stroke="#6a6a6a" stroke-width="0.35" fill="none"/>
<text transform="translate(254.75,264.52) scale(0.88,1)" font-size="4.5" text-anchor="middle" fill="#2a2a2a">bc</text>
<rect x="265.27" y="284.75" width="6.70" height="39.05" fill="#477dc2"/>
<path d="M268.62 282.78V286.72M267.62 282.78h2M267.62 286.72h2" stroke="#6a6a6a" stroke-width="0.35" fill="none"/>
<text transform="translate(268.62,280.26) scale(0.88,1)" font-size="4.5" text-anchor="middle" fill="#2a2a2a">ghi</text>
<rect x="271.97" y="282.23" width="6.70" height="41.57" fill="#c44e4d"/>
<path d="M275.32 279.86V284.59M274.32 279.86h2M274.32 284.59h2" stroke="#6a6a6a" stroke-width="0.35" fill="none"/>
<text transform="translate(275.32,277.62) scale(0.88,1)" font-size="4.5" text-anchor="middle" fill="#2a2a2a">fgh</text>
<rect x="278.68" y="277.97" width="6.70" height="45.83" fill="#99bb52"/>
<path d="M282.03 275.60V280.33M281.03 275.60h2M281.03 280.33h2" stroke="#6a6a6a" stroke-width="0.35" fill="none"/>
<text transform="translate(282.03,273.36) scale(0.88,1)" font-size="4.5" text-anchor="middle" fill="#2a2a2a">d-g</text>
<rect x="292.55" y="292.80" width="6.70" height="31.00" fill="#477dc2"/>
<path d="M295.90 291.22V294.37M294.90 291.22h2M294.90 294.37h2" stroke="#6a6a6a" stroke-width="0.35" fill="none"/>
<text transform="translate(295.90,288.42) scale(0.88,1)" font-size="4.5" text-anchor="middle" fill="#2a2a2a">i</text>
<rect x="299.26" y="289.33" width="6.70" height="34.47" fill="#c44e4d"/>
<path d="M302.61 285.38V293.27M301.61 285.38h2M301.61 293.27h2" stroke="#6a6a6a" stroke-width="0.35" fill="none"/>
<text transform="translate(302.61,284.24) scale(0.88,1)" font-size="4.5" text-anchor="middle" fill="#2a2a2a">hi</text>
<rect x="305.96" y="285.54" width="6.70" height="38.26" fill="#99bb52"/>
<path d="M309.31 283.17V287.91M308.31 283.17h2M308.31 287.91h2" stroke="#6a6a6a" stroke-width="0.35" fill="none"/>
<text transform="translate(309.31,280.93) scale(0.88,1)" font-size="4.5" text-anchor="middle" fill="#2a2a2a">hi</text>
<rect x="319.84" y="267.87" width="6.70" height="55.93" fill="#477dc2"/>
<path d="M323.19 266.29V269.45M322.19 266.29h2M322.19 269.45h2" stroke="#6a6a6a" stroke-width="0.35" fill="none"/>
<text transform="translate(323.19,263.49) scale(0.88,1)" font-size="4.5" text-anchor="middle" fill="#2a2a2a">bc</text>
<rect x="326.54" y="263.37" width="6.70" height="60.43" fill="#c44e4d"/>
<path d="M329.89 261.00V265.74M328.89 261.00h2M328.89 265.74h2" stroke="#6a6a6a" stroke-width="0.35" fill="none"/>
<text transform="translate(329.89,258.76) scale(0.88,1)" font-size="4.5" text-anchor="middle" fill="#2a2a2a">ab</text>
<rect x="333.24" y="258.32" width="6.70" height="65.48" fill="#99bb52"/>
<path d="M336.60 255.96V260.69M335.60 255.96h2M335.60 260.69h2" stroke="#6a6a6a" stroke-width="0.35" fill="none"/>
<text transform="translate(336.60,253.71) scale(0.88,1)" font-size="4.5" text-anchor="middle" fill="#2a2a2a">a</text>
<rect x="347.12" y="277.73" width="6.70" height="46.07" fill="#477dc2"/>
<path d="M350.47 275.76V279.70M349.47 275.76h2M349.47 279.70h2" stroke="#6a6a6a" stroke-width="0.35" fill="none"/>
<text transform="translate(350.47,273.24) scale(0.88,1)" font-size="4.5" text-anchor="middle" fill="#2a2a2a">d-g</text>
<rect x="353.82" y="273.94" width="6.70" height="49.86" fill="#c44e4d"/>
<path d="M357.18 270.79V277.10M356.18 270.79h2M356.18 277.10h2" stroke="#6a6a6a" stroke-width="0.35" fill="none"/>
<text transform="translate(357.18,269.10) scale(0.88,1)" font-size="4.5" text-anchor="middle" fill="#2a2a2a">cde</text>
<rect x="360.53" y="271.73" width="6.70" height="52.07" fill="#99bb52"/>
<path d="M363.88 268.97V274.49M362.88 268.97h2M362.88 274.49h2" stroke="#6a6a6a" stroke-width="0.35" fill="none"/>
<text transform="translate(363.88,267.01) scale(0.88,1)" font-size="4.5" text-anchor="middle" fill="#2a2a2a">cd</text>
<rect x="374.40" y="284.04" width="6.70" height="39.76" fill="#477dc2"/>
<path d="M377.75 282.46V285.62M376.75 282.46h2M376.75 285.62h2" stroke="#6a6a6a" stroke-width="0.35" fill="none"/>
<text transform="translate(377.75,279.67) scale(0.88,1)" font-size="4.5" text-anchor="middle" fill="#2a2a2a">ghi</text>
<rect x="381.11" y="280.96" width="6.70" height="42.84" fill="#c44e4d"/>
<path d="M384.46 277.81V284.12M383.46 277.81h2M383.46 284.12h2" stroke="#6a6a6a" stroke-width="0.35" fill="none"/>
<text transform="translate(384.46,276.12) scale(0.88,1)" font-size="4.5" text-anchor="middle" fill="#2a2a2a">e-h</text>
<rect x="387.81" y="277.73" width="6.70" height="46.07" fill="#99bb52"/>
<path d="M391.16 275.76V279.70M390.16 275.76h2M390.16 279.70h2" stroke="#6a6a6a" stroke-width="0.35" fill="none"/>
<text transform="translate(391.16,273.24) scale(0.88,1)" font-size="4.5" text-anchor="middle" fill="#2a2a2a">def</text>
<path d="M234.4 252.8V323.8H398.1" stroke="#4a4a4a" stroke-width="0.65" fill="none"/>
<path d="M232.9 323.80H234.4" stroke="#4a4a4a" stroke-width="0.6"/>
<text x="229.70" y="325.45" font-size="4.7" text-anchor="end" fill="#4c4c4c">0</text>
<path d="M232.9 315.91H234.4" stroke="#4a4a4a" stroke-width="0.6"/>
<text x="229.70" y="317.56" font-size="4.7" text-anchor="end" fill="#4c4c4c">1</text>
<path d="M232.9 308.02H234.4" stroke="#4a4a4a" stroke-width="0.6"/>
<text x="229.70" y="309.67" font-size="4.7" text-anchor="end" fill="#4c4c4c">2</text>
<path d="M232.9 300.13H234.4" stroke="#4a4a4a" stroke-width="0.6"/>
<text x="229.70" y="301.78" font-size="4.7" text-anchor="end" fill="#4c4c4c">3</text>
<path d="M232.9 292.24H234.4" stroke="#4a4a4a" stroke-width="0.6"/>
<text x="229.70" y="293.89" font-size="4.7" text-anchor="end" fill="#4c4c4c">4</text>
<path d="M232.9 284.36H234.4" stroke="#4a4a4a" stroke-width="0.6"/>
<text x="229.70" y="286.01" font-size="4.7" text-anchor="end" fill="#4c4c4c">5</text>
<path d="M232.9 276.47H234.4" stroke="#4a4a4a" stroke-width="0.6"/>
<text x="229.70" y="278.12" font-size="4.7" text-anchor="end" fill="#4c4c4c">6</text>
<path d="M232.9 268.58H234.4" stroke="#4a4a4a" stroke-width="0.6"/>
<text x="229.70" y="270.23" font-size="4.7" text-anchor="end" fill="#4c4c4c">7</text>
<path d="M232.9 260.69H234.4" stroke="#4a4a4a" stroke-width="0.6"/>
<text x="229.70" y="262.34" font-size="4.7" text-anchor="end" fill="#4c4c4c">8</text>
<path d="M232.9 252.80H234.4" stroke="#4a4a4a" stroke-width="0.6"/>
<text x="229.70" y="254.45" font-size="4.7" text-anchor="end" fill="#4c4c4c">9</text>
<path d="M234.40 323.8V344.3" stroke="#4a4a4a" stroke-width="0.6"/>
<path d="M261.68 323.8V333.8" stroke="#4a4a4a" stroke-width="0.6"/>
<path d="M288.97 323.8V333.8" stroke="#4a4a4a" stroke-width="0.6"/>
<path d="M316.25 323.8V344.3" stroke="#4a4a4a" stroke-width="0.6"/>
<path d="M343.53 323.8V333.8" stroke="#4a4a4a" stroke-width="0.6"/>
<path d="M370.82 323.8V333.8" stroke="#4a4a4a" stroke-width="0.6"/>
<text x="248.04" y="332.80" font-size="4.6" text-anchor="middle" fill="#4c4c4c">Cr0</text>
<text x="275.32" y="332.80" font-size="4.6" text-anchor="middle" fill="#4c4c4c">Cr25</text>
<text x="302.61" y="332.80" font-size="4.6" text-anchor="middle" fill="#4c4c4c">Cr50</text>
<text x="329.89" y="332.80" font-size="4.6" text-anchor="middle" fill="#4c4c4c">Cr0</text>
<text x="357.18" y="332.80" font-size="4.6" text-anchor="middle" fill="#4c4c4c">Cr25</text>
<text x="384.46" y="332.80" font-size="4.6" text-anchor="middle" fill="#4c4c4c">Cr50</text>
<text x="275.82" y="343.10" font-size="5.1" text-anchor="middle" fill="#4c4c4c">Without Microbes</text>
<text x="357.68" y="343.10" font-size="5.1" text-anchor="middle" fill="#4c4c4c">staphylococcus aureus</text>
<text x="316.25" y="351.10" font-size="5.1" font-weight="bold" text-anchor="middle" fill="#333">Cr Concentration (mg kg⁻¹)</text>
<text transform="translate(224.20000000000002,289.20) rotate(-90)" font-size="5.08" font-weight="bold" text-anchor="middle" fill="#585858">Number of Flowers (plant⁻¹)</text>
<rect x="257.40" y="247.90" width="2.2" height="2.2" fill="#3a66a8"/>
<text x="260.60" y="250.50" font-size="4.6" textLength="22.3" lengthAdjust="spacingAndGlyphs" fill="#454545">CeO2 NPs 0</text>
<rect x="289.90" y="247.90" width="2.2" height="2.2" fill="#a8383a"/>
<text x="293.10" y="250.50" font-size="4.6" textLength="24.8" lengthAdjust="spacingAndGlyphs" fill="#454545">CeO2 NPs 25</text>
<rect x="325.10" y="247.90" width="2.2" height="2.2" fill="#86a642"/>
<text x="328.30" y="250.50" font-size="4.6" textLength="25.2" lengthAdjust="spacingAndGlyphs" fill="#454545">CeO2 NPs 50</text>
</svg>
</body></html>
